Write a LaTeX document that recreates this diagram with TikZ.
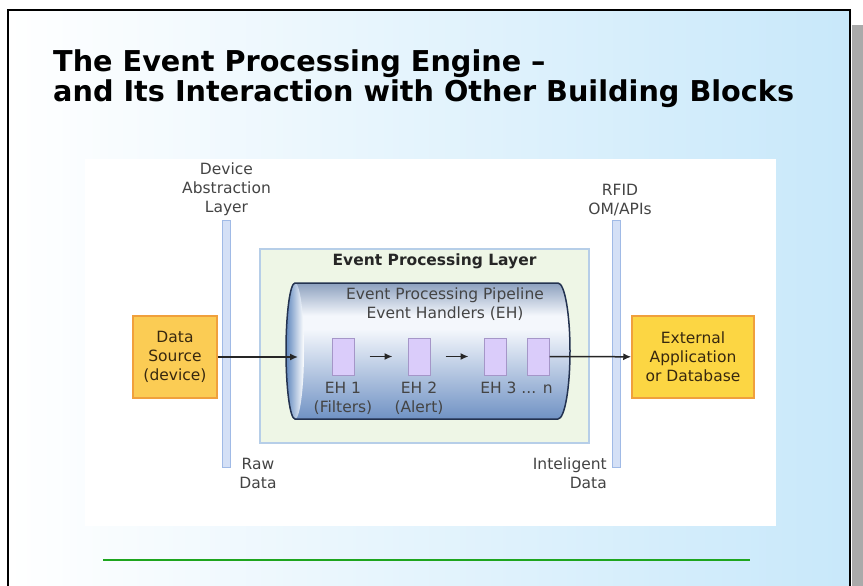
\documentclass[tikz,border=0pt]{standalone}
\usepackage{fontspec}
\setmainfont{DejaVu Sans}
\usepackage{tikz}
\usetikzlibrary{arrows,arrows.meta}
\usetikzlibrary{positioning,calc}
\definecolor{slideblue}{RGB}{200,232,250}
\definecolor{shadowgray}{RGB}{170,170,170}
\definecolor{txtgray}{RGB}{68,68,68}
\definecolor{boxfill}{RGB}{251,204,84}
\definecolor{boxedge}{RGB}{240,160,60}
\definecolor{boxtext}{RGB}{55,40,15}
\definecolor{barfill}{RGB}{212,224,246}
\definecolor{baredge}{RGB}{160,186,230}
\definecolor{layerfill}{RGB}{238,246,230}
\definecolor{layeredge}{RGB}{182,206,232}
\definecolor{pipeedge}{RGB}{35,50,80}
\definecolor{pipetop}{RGB}{140,160,190}
\definecolor{pipemid}{RGB}{244,247,252}
\definecolor{pipebot}{RGB}{112,146,196}
\definecolor{faceblue}{RGB}{95,135,190}
\definecolor{ehfill}{RGB}{218,204,250}
\definecolor{ehedge}{RGB}{165,150,200}
\definecolor{rulegreen}{RGB}{30,165,30}
\pgfdeclareverticalshading{pipe}{100bp}{color(0bp)=(pipebot); color(25bp)=(pipebot); color(58bp)=(pipemid); color(63bp)=(pipemid); color(75bp)=(pipetop); color(100bp)=(pipetop)}
\tikzset{
    lbl/.style={
           inner sep=0pt,
           align=center,
           text=txtgray,
           font=\fontsize{15.5}{19}\selectfont,
           },
}
\tikzset{
    block/.style={
           rectangle,
           draw=boxedge, line width=1.5pt,
           fill=boxfill,
           minimum height=82pt,
           align=center,
           text=boxtext,
           font=\fontsize{15.5}{19}\selectfont,
           },
}
\tikzset{
    bar/.style={
           rectangle,
           draw=baredge, line width=1pt,
           fill=barfill,
           minimum width=8pt,
           minimum height=247pt,
           inner sep=0pt,
           },
}
\tikzset{
    handler/.style={
           rectangle,
           draw=ehedge, line width=1pt,
           fill=ehfill,
           minimum width=22pt,
           minimum height=37pt,
           inner sep=0pt,
           },
}

\begin{document}
\begin{tikzpicture}[x=1pt,y=-1pt]
\useasboundingbox (0,0) rectangle (863,586);
\fill[shadowgray] (852,25) rectangle (863,586);
\shade[left color=white,right color=slideblue] (8,10) rectangle (850,586);
\draw[line width=1.5pt] (8,586) -- (8,10) -- (850,10) -- (850,586);
\node[anchor=base west,inner sep=0pt,font=\fontsize{28.7}{30}\selectfont\bfseries](title) at (53,72) {The Event Processing Engine --};
\node[anchor=base west,inner sep=0pt,font=\fontsize{28.7}{30}\selectfont\bfseries](title2) at (53,102) {and Its Interaction with Other Building Blocks};
\fill[white] (85,159) rectangle (776,526);
\draw[rulegreen,line width=2pt] (103,560) -- (750,560);
% layers
\node[bar](dal) at (226.5,343.5) {};
\node[bar](api) at (616,344) {};
\node[lbl,above=4pt of dal](dallbl){Device\\Abstraction\\Layer};
\node[lbl,above=4pt of api,xshift=4pt](apilbl){RFID\\OM/APIs};
\node[lbl,anchor=north](raw) at (258,458) {Raw\\Data};
\node[lbl,anchor=north east,align=right](smart) at (607,458) {Inteligent\\Data};
% event processing layer
\node[draw=layeredge,line width=1.5pt,fill=layerfill,minimum width=329pt,minimum height=194pt](epl) at (424.5,346) {};
\node[lbl,text=black!85,font=\fontsize{15.5}{19}\selectfont\bfseries](epllbl) at ($(epl.north)+(10,13)$) {Event Processing Layer};
% pipeline
\shade[shading=pipe] (295,283) -- (558,283) arc[start angle=-90,end angle=90,x radius=12,y radius=68] -- (295,419) arc[start angle=90,end angle=270,x radius=9,y radius=68] -- cycle;
\shade[left color=faceblue,right color=white] (295,351) ellipse [x radius=9,y radius=68];
\draw[pipeedge,line width=1.5pt] (295,283) -- (558,283) arc[start angle=-90,end angle=90,x radius=12,y radius=68] -- (295,419) arc[start angle=90,end angle=270,x radius=9,y radius=68] -- cycle;
\coordinate (inlet) at (298,357);
\node[lbl](pipelbl) at (445,304) {Event Processing Pipeline\\Event Handlers (EH)};
\node[handler](eh1) at (343,356.5) {};
\node[handler,right=53pt of eh1](eh2){};
\node[handler,right=53pt of eh2](eh3){};
\node[handler,right=20pt of eh3](ehn){};
\node[lbl,below=6pt of eh1](eh1lbl){EH 1\\(Filters)};
\node[lbl,below=6pt of eh2](eh2lbl){EH 2\\(Alert)};
\node[lbl,anchor=north](ehnlbl) at ($(eh3.south)!.5!(ehn.south)+(0,6)$) {EH 3 ... n};
% end points
\node[block,minimum width=84pt](src) at (175,357) {Data\\Source\\(device)};
\node[block,minimum width=122pt,fill=boxfill!80!yellow](ext) at (693,357) {External\\Application\\or Database};
\draw (src)edge[line width=1.5pt,black!85,-{Latex[length=8pt,width=7pt]}](inlet);
\draw (eh1)edge[line width=1.5pt,black!85,-{Latex[length=8pt,width=7pt]},shorten <=15pt,shorten >=15pt](eh2);
\draw (eh2)edge[line width=1.5pt,black!85,-{Latex[length=8pt,width=7pt]},shorten <=15pt,shorten >=15pt](eh3);
\draw (ehn)edge[line width=1.5pt,black!85,-{Latex[length=8pt,width=7pt]}](ext);
\end{tikzpicture}
\end{document}
